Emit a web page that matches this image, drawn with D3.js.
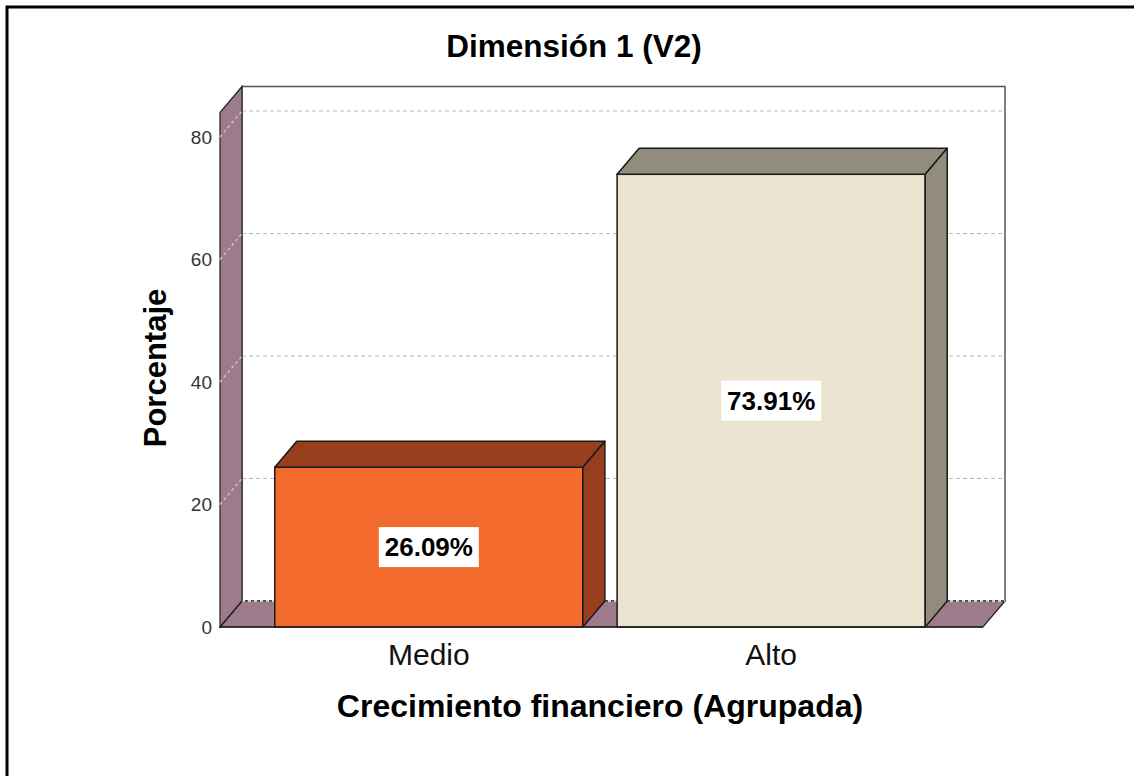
<!DOCTYPE html>
<html>
<head>
<meta charset="utf-8">
<script src="https://cdn.jsdelivr.net/npm/d3@7"></script>
<style>
  body { margin: 0; background: #fff; }
  svg text { font-family: "Liberation Sans", Arial, sans-serif; }
</style>
</head>
<body>
<div id="chart"></div>
<script>
// chart data
const categories = ["Medio", "Alto"];
const percentages = [26.09, 73.91];
const valueLabels = ["26.09%", "73.91%"];
const yTicks = [0, 20, 40, 60, 80];
const frontColors = ["#f26a2c", "#ebe4d0"];
const darkColors = ["#973f1c", "#918c7c"];

const width = 1134, height = 776;
const depth = {dx: 22, dy: -26};
const plot = {left: 220, right: 983, bottom: 627};
const wallColor = "#9e7b8b";

const svg = d3.select("#chart").append("svg")
    .attr("width", width)
    .attr("height", height);

svg.append("rect")
    .attr("width", width).attr("height", height)
    .attr("fill", "#fff");

// outer frame (runs off the right and bottom edges)
svg.append("rect")
    .attr("x", 7).attr("y", 7)
    .attr("width", width + 20).attr("height", height + 20)
    .attr("fill", "none").attr("stroke", "#000").attr("stroke-width", 3);

const xScale = d3.scaleBand()
    .domain(categories)
    .range([plot.left, plot.right - 3])
    .paddingInner(0.1)
    .paddingOuter(0.16);

const yScale = d3.scaleLinear()
    .domain([0, 84])
    .range([plot.bottom, plot.bottom - 84 * 6.125]);

const y0 = yScale(0), yTop = yScale(84);
const pts = arr => arr.map(p => p.join(",")).join(" ");

// back wall
svg.append("rect")
    .attr("x", plot.left + depth.dx).attr("y", yTop + depth.dy)
    .attr("width", plot.right - plot.left).attr("height", y0 - yTop)
    .attr("fill", "#fff").attr("stroke", "#555").attr("stroke-width", 1.5);

// gridlines on back wall
svg.append("g").selectAll("line")
    .data(yTicks.filter(d => d > 0))
    .join("line")
    .attr("x1", plot.left + depth.dx).attr("x2", plot.right + depth.dx)
    .attr("y1", d => yScale(d) + depth.dy).attr("y2", d => yScale(d) + depth.dy)
    .attr("stroke", "#b8b8b8").attr("stroke-dasharray", "4,3");

// floor
svg.append("polygon")
    .attr("points", pts([[plot.left, y0], [plot.right, y0],
        [plot.right + depth.dx, y0 + depth.dy], [plot.left + depth.dx, y0 + depth.dy]]))
    .attr("fill", wallColor).attr("stroke", "#222").attr("stroke-width", 1.2);
svg.append("line")
    .attr("x1", plot.left + depth.dx).attr("x2", plot.right + depth.dx)
    .attr("y1", y0 + depth.dy).attr("y2", y0 + depth.dy)
    .attr("stroke", "#fff").attr("stroke-width", 1.4).attr("stroke-dasharray", "3,3");

// left wall
svg.append("polygon")
    .attr("points", pts([[plot.left, y0], [plot.left, yTop],
        [plot.left + depth.dx, yTop + depth.dy], [plot.left + depth.dx, y0 + depth.dy]]))
    .attr("fill", wallColor).attr("stroke", "#222").attr("stroke-width", 1.2);

// gridlines crossing the left wall
svg.append("g").selectAll("line")
    .data(yTicks)
    .join("line")
    .attr("x1", plot.left).attr("x2", plot.left + depth.dx)
    .attr("y1", d => yScale(d)).attr("y2", d => yScale(d) + depth.dy)
    .attr("stroke", d => d === 0 ? "#222" : "#d0d0d0")
    .attr("stroke-width", 1.2)
    .attr("stroke-dasharray", "3,3");

// bars
const bw = xScale.bandwidth();
const barG = svg.append("g").selectAll("g")
    .data(categories.map((c, i) => ({cat: c, value: percentages[i], label: valueLabels[i], i: i})))
    .join("g");

barG.append("rect")
    .attr("x", d => xScale(d.cat)).attr("y", d => yScale(d.value))
    .attr("width", bw).attr("height", d => y0 - yScale(d.value))
    .attr("fill", d => frontColors[d.i]).attr("stroke", "#1a1a1a").attr("stroke-width", 1.5);

barG.append("polygon")
    .attr("points", d => {
        const x0 = xScale(d.cat), yt = yScale(d.value);
        return pts([[x0, yt], [x0 + depth.dx, yt + depth.dy], [x0 + bw + depth.dx, yt + depth.dy], [x0 + bw, yt]]);
    })
    .attr("fill", d => darkColors[d.i]).attr("stroke", "#1a1a1a").attr("stroke-width", 1.5)
    .attr("stroke-linejoin", "round");

barG.append("polygon")
    .attr("points", d => {
        const x1 = xScale(d.cat) + bw, yt = yScale(d.value);
        return pts([[x1, yt], [x1 + depth.dx, yt + depth.dy], [x1 + depth.dx, y0 + depth.dy], [x1, y0]]);
    })
    .attr("fill", d => darkColors[d.i]).attr("stroke", "#1a1a1a").attr("stroke-width", 1.5)
    .attr("stroke-linejoin", "round");

// value labels with white box
barG.append("rect")
    .attr("x", d => xScale(d.cat) + bw / 2 - 50)
    .attr("y", d => (yScale(d.value) + y0) / 2 - 20)
    .attr("width", 100).attr("height", 40)
    .attr("fill", "#fff");

barG.append("text")
    .attr("x", d => xScale(d.cat) + bw / 2)
    .attr("y", d => (yScale(d.value) + y0) / 2 + 9)
    .attr("text-anchor", "middle")
    .attr("font-size", 26).attr("font-weight", "bold").attr("fill", "#000")
    .text(d => d.label);

// front baseline
svg.append("line")
    .attr("x1", plot.left).attr("x2", plot.right)
    .attr("y1", y0).attr("y2", y0)
    .attr("stroke", "#222").attr("stroke-width", 1.5);

// y axis
const yAxisG = svg.append("g")
    .attr("transform", `translate(${plot.left},0)`)
    .call(d3.axisLeft(yScale).tickValues(yTicks).tickSize(0).tickPadding(8));
yAxisG.select(".domain").remove();
yAxisG.selectAll("text")
    .attr("font-size", 19).attr("fill", "#333")
    .style("font-family", "'Liberation Sans', Arial, sans-serif");

// x axis
const xAxisG = svg.append("g")
    .attr("transform", `translate(0,${y0})`)
    .call(d3.axisBottom(xScale).tickSize(0));
xAxisG.select(".domain").remove();
xAxisG.selectAll("text")
    .attr("y", 38).attr("dy", 0)
    .attr("font-size", 30).attr("fill", "#111")
    .style("font-family", "'Liberation Sans', Arial, sans-serif");

// titles
svg.append("text")
    .attr("x", 574).attr("y", 57)
    .attr("text-anchor", "middle")
    .attr("font-size", 31.5).attr("font-weight", "bold")
    .text("Dimensión 1 (V2)");

svg.append("text")
    .attr("x", 600).attr("y", 717)
    .attr("text-anchor", "middle")
    .attr("font-size", 32).attr("font-weight", "bold")
    .text("Crecimiento financiero (Agrupada)");

svg.append("text")
    .attr("transform", "translate(166,368) rotate(-90)")
    .attr("text-anchor", "middle")
    .attr("font-size", 31).attr("font-weight", "bold")
    .text("Porcentaje");
</script>
</body>
</html>
